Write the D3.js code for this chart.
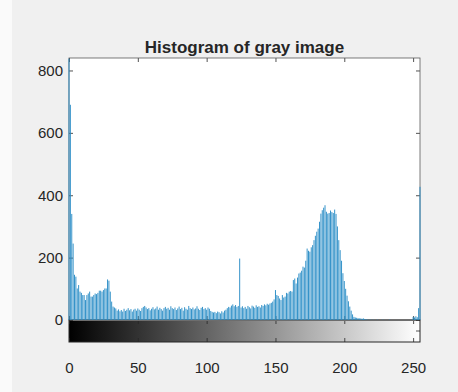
<!DOCTYPE html>
<html>
<head>
<meta charset="utf-8">
<script src="https://cdn.jsdelivr.net/npm/d3@7"></script>
<style>
  html, body { margin: 0; padding: 0; background: #f0f0f0; }
  svg { display: block; }
  text { font-family: "Liberation Sans", Arial, Helvetica, sans-serif; fill: #262626; }
</style>
</head>
<body>
<div id="chart"></div>
<script>
// gray levels 0..255 and their pixel counts
const title = "Histogram of gray image";
const counts = [
  838, 690, 340, 245, 145, 139, 101, 112, 91, 87,
  80, 80, 64, 80, 85, 91, 75, 75, 80, 85,
  83, 87, 94, 94, 91, 96, 101, 101, 130, 126,
  91, 59, 43, 40, 37, 30, 34, 28, 32, 27,
  36, 29, 33, 38, 31, 35, 27, 33, 36, 30,
  37, 33, 29, 38, 42, 45, 40, 35, 38, 31,
  36, 41, 34, 37, 43, 33, 39, 35, 30, 38,
  42, 36, 39, 33, 44, 38, 35, 40, 32, 37,
  43, 35, 39, 30, 41, 36, 33, 45, 38, 35,
  40, 34, 37, 44, 36, 32, 39, 42, 35, 38,
  33, 40, 36, 29, 26, 24, 26, 22, 27, 25,
  21, 28, 24, 30, 33, 38, 42, 40, 46, 50,
  44, 48, 42, 45, 197, 40, 44, 38, 42, 36,
  45, 41, 37, 46, 43, 39, 47, 42, 44, 40,
  48, 45, 50, 47, 52, 49, 53, 55, 59, 66,
  96, 80, 77, 69, 64, 80, 72, 75, 87, 85,
  91, 93, 91, 128, 133, 117, 136, 149, 152, 158,
  171, 168, 190, 229, 222, 219, 233, 240, 256, 270,
  283, 293, 315, 341, 352, 360, 368, 347, 341, 343,
  351, 346, 343, 354, 340, 300, 256, 224, 190, 150,
  125, 100, 78, 60, 43, 30, 18, 10, 8, 7,
  6, 5, 5, 4, 5, 3, 2, 1, 1, 1,
  0, 1, 0, 0, 1, 0, 0, 0, 1, 0,
  0, 0, 0, 1, 0, 0, 0, 0, 0, 0,
  0, 0, 0, 0, 0, 0, 0, 0, 0, 1,
  10, 8, 12, 9, 38, 427
];
const levels = d3.range(counts.length);
const xTicks = [0, 50, 100, 150, 200, 250];
const yTicks = [0, 200, 400, 600, 800];

const width = 458, height = 392;
const plotLeft = 69, plotRight = 420, plotTop = 58, base = 320, barBottom = 342;

const svg = d3.select("#chart").append("svg")
  .attr("width", width)
  .attr("height", height);

svg.append("rect").attr("width", width).attr("height", height).attr("fill", "#f0f0f0");
svg.append("rect").attr("width", 12).attr("height", height).attr("fill", "#fafafa");

const x = d3.scaleLinear().domain([0, 255]).range([plotLeft, plotRight]);
const y = d3.scaleLinear().domain([0, 840]).range([base, plotTop]);

// plot area
svg.append("rect")
  .attr("x", plotLeft).attr("y", plotTop)
  .attr("width", plotRight - plotLeft).attr("height", base - plotTop)
  .attr("fill", "#ffffff");

// colorbar
const grad = svg.append("defs").append("linearGradient")
  .attr("id", "gray").attr("x1", "0%").attr("x2", "100%");
grad.append("stop").attr("offset", "0%").attr("stop-color", "#000");
grad.append("stop").attr("offset", "100%").attr("stop-color", "#fff");
svg.append("rect")
  .attr("x", plotLeft).attr("y", base + 1)
  .attr("width", plotRight - plotLeft).attr("height", barBottom - base - 1)
  .attr("fill", "url(#gray)");

const tickColor = "#262626";
function styleAxis(g, labels) {
  g.select(".domain").remove();
  g.selectAll(".tick line").attr("stroke", tickColor).attr("stroke-width", 0.8);
  if (!labels) g.selectAll(".tick text").remove();
  g.selectAll(".tick text")
    .attr("fill", "#262626")
    .style("font-size", "15px")
    .style("font-family", "'Liberation Sans', Arial, sans-serif");
}

svg.append("g").attr("transform", `translate(${plotLeft},0)`)
  .call(d3.axisLeft(y).tickValues(yTicks).tickSize(-4).tickPadding(6))
  .call(g => styleAxis(g, true));
svg.append("g").attr("transform", `translate(${plotRight},0)`)
  .call(d3.axisRight(y).tickValues(yTicks).tickSize(-4))
  .call(g => styleAxis(g, false));
svg.append("g").attr("transform", `translate(0,${plotTop})`)
  .call(d3.axisTop(x).tickValues(xTicks).tickSize(-4))
  .call(g => styleAxis(g, false));
svg.append("g").attr("transform", `translate(0,${base})`)
  .call(d3.axisBottom(x).tickValues(xTicks).tickSize(-4))
  .call(g => styleAxis(g, false));
svg.append("g").attr("transform", `translate(0,${base + 1})`)
  .call(d3.axisTop(x).tickValues(xTicks).tickSize(-3))
  .call(g => styleAxis(g, false));
svg.append("g").attr("transform", `translate(0,${barBottom})`)
  .call(d3.axisBottom(x).tickValues(xTicks).tickSize(-4).tickPadding(20))
  .call(g => styleAxis(g, true));

// frames
svg.append("rect")
  .attr("x", plotLeft).attr("y", plotTop)
  .attr("width", plotRight - plotLeft).attr("height", base - plotTop)
  .attr("fill", "none").attr("stroke", "#5a5a5a").attr("stroke-width", 0.8);
svg.append("rect")
  .attr("x", plotLeft).attr("y", base)
  .attr("width", plotRight - plotLeft).attr("height", barBottom - base)
  .attr("fill", "none").attr("stroke", "#262626").attr("stroke-width", 1);
svg.append("line")
  .attr("x1", plotRight - 4).attr("x2", plotRight)
  .attr("y1", (base + barBottom) / 2).attr("y2", (base + barBottom) / 2)
  .attr("stroke", tickColor).attr("stroke-width", 0.8);

// stems, drawn over the frame so the end bins stay visible
svg.append("g")
  .selectAll("line")
  .data(levels)
  .enter()
  .append("line")
  .attr("x1", d => x(d)).attr("x2", d => x(d))
  .attr("y1", y(0)).attr("y2", d => y(counts[d]))
  .attr("stroke", "#2a8dc6")
  .attr("stroke-width", 0.95);

svg.append("text")
  .attr("x", (plotLeft + plotRight) / 2).attr("y", 53)
  .attr("text-anchor", "middle")
  .style("font-size", "17px").style("font-weight", "bold")
  .text(title);
</script>
</body>
</html>
